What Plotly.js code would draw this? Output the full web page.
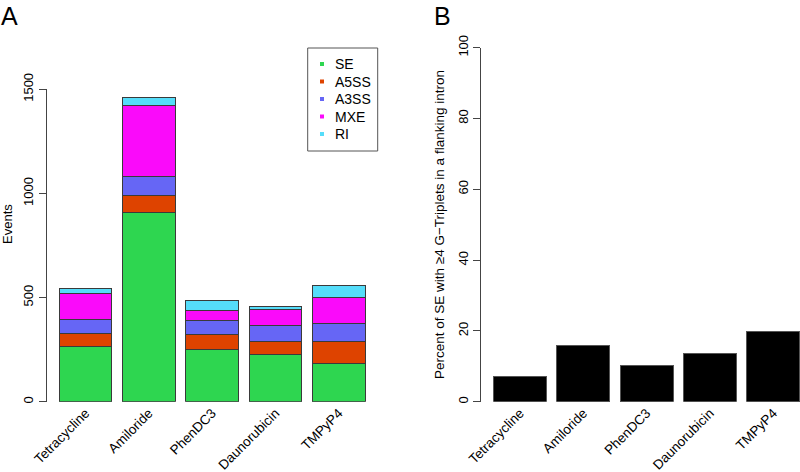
<!DOCTYPE html>
<html>
<head>
<meta charset="utf-8">
<script src="https://cdn.plot.ly/plotly-3.0.1.min.js"></script>
<style>html,body{margin:0;padding:0;background:#fff;}#chart{width:800px;height:472px;}</style>
</head>
<body>
<div id="chart"></div>
<script>
// ---- data ----
const treatments = ["Tetracycline", "Amiloride", "PhenDC3", "Daunorubicin", "TMPyP4"];
const eventTypes = ["SE", "A5SS", "A3SS", "MXE", "RI"];
const SE   = [264, 909, 253, 229, 184];
const A5SS = [64, 80, 72, 59, 107];
const A3SS = [67, 91, 65, 77, 85];
const MXE  = [125, 343, 49, 80, 123];
const RI   = [24, 40, 48, 14, 61];
const pctSE = [7.0, 16.0, 10.3, 13.6, 19.8];
const eventTicks = [0, 500, 1000, 1500];
const pctTicks = [0, 20, 40, 60, 80, 100];
const yTitleA = "Events";
const yTitleB = "Percent of SE with \u22654 G\u2212Triplets in a flanking intron";

// ---- styles ----
const colors = ["#2ED650", "#DE4300", "#6666F5", "#FA0AFA", "#55DDFA"];
const seriesValues = [SE, A5SS, A3SS, MXE, RI];
const W = 800, H = 472;
const px = v => v / W;
const py = v => 1 - v / H;
const FONT = "Liberation Sans, Arial, sans-serif";

const traces = eventTypes.map((name, i) => ({
  type: "bar", name: name, x: treatments, y: seriesValues[i],
  xaxis: "x", yaxis: "y",
  marker: {color: colors[i], line: {color: "#3a3a3a", width: 1}},
  showlegend: false, hoverinfo: "none"
}));
traces.push({
  type: "bar", name: "pct", x: treatments, y: pctSE, xaxis: "x2", yaxis: "y2",
  marker: {color: "#000000", line: {color: "#555", width: 1}},
  showlegend: false, hoverinfo: "none"
});

const axY = {
  showline: true, linecolor: "#444", linewidth: 1, ticks: "outside", ticklen: 7,
  tickcolor: "#444", showgrid: false, zeroline: false, tickangle: -90,
  tickfont: {family: FONT, size: 13, color: "#000"}, fixedrange: true
};
const axX = {
  type: "category", showline: false, ticks: "", showgrid: false, zeroline: false,
  tickangle: -45, tickfont: {family: FONT, size: 13.5, color: "#000"}, fixedrange: true
};

const shapes = [{
  type: "rect", xref: "paper", yref: "paper",
  x0: px(307.7), x1: px(377.7), y0: py(48), y1: py(151),
  line: {color: "#555", width: 1}, fillcolor: "rgba(0,0,0,0)"
}];
const annotations = [
  {text: "A", x: px(0), y: py(16), xref: "paper", yref: "paper", xanchor: "left", yanchor: "middle",
   showarrow: false, borderpad: 0, font: {family: FONT, size: 25, color: "#000"}},
  {text: "B", x: px(433), y: py(16), xref: "paper", yref: "paper", xanchor: "left", yanchor: "middle",
   showarrow: false, borderpad: 0, font: {family: FONT, size: 25, color: "#000"}},
  {text: yTitleA, x: px(7), y: py(224), xref: "paper", yref: "paper", xanchor: "center", yanchor: "middle",
   textangle: -90, showarrow: false, font: {family: FONT, size: 13, color: "#000"}},
  {text: yTitleB, x: px(440), y: py(225), xref: "paper", yref: "paper", xanchor: "center", yanchor: "middle",
   textangle: -90, showarrow: false, font: {family: FONT, size: 13.5, color: "#000"}}
];
eventTypes.forEach((name, i) => {
  const cy = 64 + i * 17.5;
  shapes.push({type: "rect", xref: "paper", yref: "paper",
    x0: px(320), x1: px(324), y0: py(cy - 2), y1: py(cy + 2),
    line: {width: 0}, fillcolor: colors[i]});
  annotations.push({text: name, x: px(333), y: py(cy), xref: "paper", yref: "paper",
    xanchor: "left", yanchor: "middle", showarrow: false,
    font: {family: FONT, size: 14, color: "#000"}});
});

const layout = {
  width: W, height: H, margin: {l: 0, r: 0, t: 0, b: 0},
  paper_bgcolor: "#fff", plot_bgcolor: "rgba(0,0,0,0)",
  barmode: "stack", bargap: 1/6, showlegend: false,
  font: {family: FONT, color: "#000"},
  xaxis: Object.assign({}, axX, {domain: [px(46.5), px(388.3)], range: [-0.617, 4.783], anchor: "y"}),
  yaxis: Object.assign({}, axY, {domain: [py(401.7), py(89.3)], range: [0, 1500], tickvals: eventTicks, anchor: "x"}),
  xaxis2: Object.assign({}, axX, {domain: [px(481), 1], range: [-0.617, 4.423], anchor: "y2"}),
  yaxis2: Object.assign({}, axY, {domain: [py(401.7), py(47.7)], range: [0, 100], tickvals: pctTicks, anchor: "x2"}),
  shapes: shapes, annotations: annotations
};

Plotly.newPlot("chart", traces, layout, {staticPlot: true, displayModeBar: false});
</script>
</body>
</html>
